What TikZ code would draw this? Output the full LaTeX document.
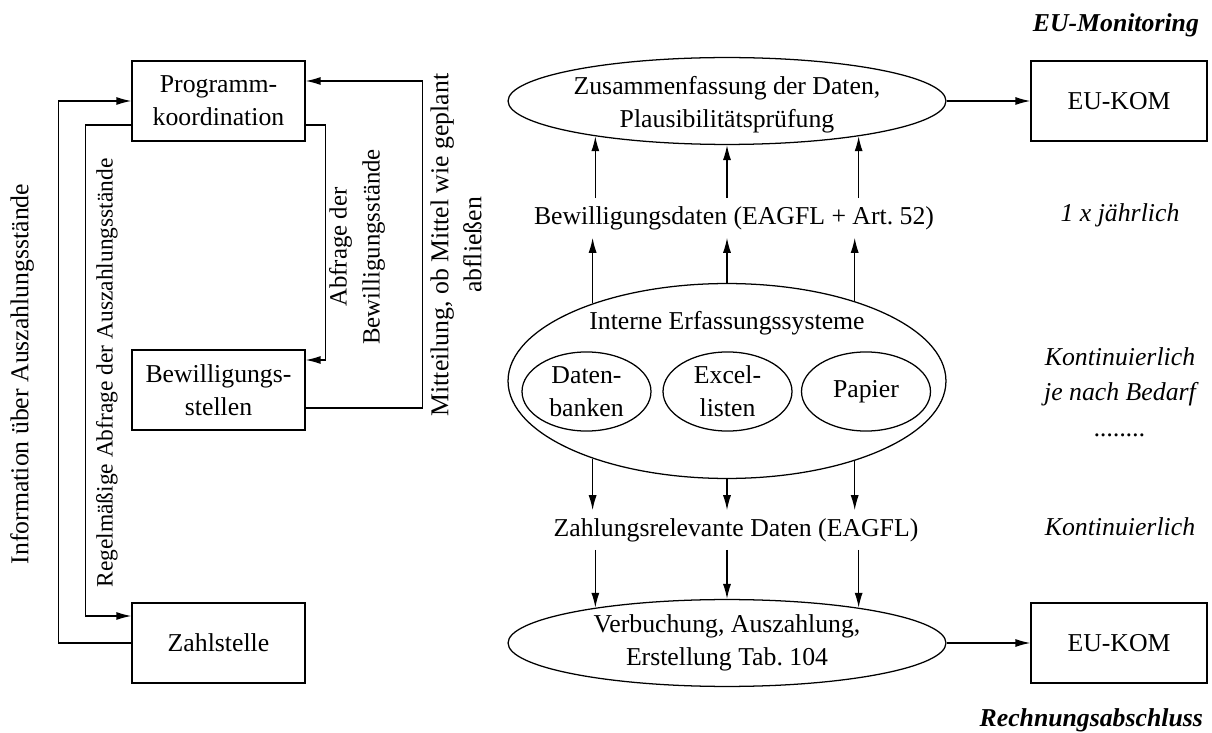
\documentclass[tikz,border=0pt]{standalone}
\usepackage{fontspec}
\setmainfont{Liberation Serif}
\usetikzlibrary{calc,arrows.meta,shapes.geometric}

\begin{document}
\begin{tikzpicture}[x=0.435pt, y=-0.435pt,
		font=\fontsize{11.2}{14.4}\selectfont,
		box/.style={draw, line width=0.55pt, minimum width=75.3pt, minimum height=34.8pt, align=center, inner sep=0pt},
		eubox/.style={box, minimum width=76.6pt},
		oval/.style={draw, ellipse, line width=0.55pt, inner sep=0pt, align=center},
		arr/.style={line width=0.55pt, -{Latex[length=6.5pt, width=3.5pt]}},
		side/.style={rotate=90, align=center},
		freq/.style={font=\fontsize{11.2}{15.5}\selectfont\itshape, align=center},
		head/.style={font=\fontsize{11.2}{14.4}\selectfont\bfseries\itshape, anchor=east}]
		%%%%% START %%%%%
		
		\useasboundingbox (0,0) rectangle (1212,733);
		
		\node[box] (prog) at (218.5,101) {Programm-\\koordination};
		\node[box] (bws) at (218.5,390) {Bewilligungs-\\stellen};
		\node[box] (zs) at (218.5,643) {Zahlstelle};
		
		\node[side] (info) at (22,374) {Information über Auszahlungsstände};
		\node[side, font=\fontsize{10.2}{13}\selectfont] (regel) at (107,373) {Regelmäßige Abfrage der Auszahlungsstände};
		\node[side, font=\fontsize{10.8}{14.4}\selectfont] (abfr) at (357,247) {Abfrage der\\Bewilligungsstände};
		\node[side] (mitt) at (456,245) {Mitteilung, ob Mittel wie geplant\\abfließen};
		
		\draw[arr] (zs.west) -- ++(-73,0) |- (prog.west);
		\draw[arr] ($(prog.west)+(0,24)$) -- ++(-46,0) |- ($(zs.west)+(0,-27)$);
		\draw[arr] ($(prog.east)+(0,24)$) -- ++(20,0) |- ($(bws.east)+(0,-30)$);
		\draw[arr] ($(bws.east)+(0,18)$) -- ++(117,0) |- ($(prog.east)+(0,-20)$);
		
		\node[oval, minimum width=190.5pt, minimum height=37.8pt] (top) at (727,101) {};
		\node[align=center] (toplbl) at (727,105) {Zusammenfassung der Daten,\\Plausibilitätsprüfung};
		\node[eubox] (eu1) at (1119,101) {EU-KOM};
		\node (bew) at (734,218) {Bewilligungsdaten (EAGFL + Art.\ 52)};
		
		\node[oval, minimum width=190.5pt, minimum height=84.8pt] (int) at (727,381) {};
		\node (intlbl) at (727,323) {Interne Erfassungssysteme};
		\node[oval, minimum width=56.1pt, minimum height=34.4pt] (db) at (586.5,391.5) {Daten-\\banken};
		\node[oval, minimum width=56.1pt, minimum height=34.4pt] (xl) at (727.5,391.5) {Excel-\\listen};
		\node[oval, minimum width=56.1pt, minimum height=34.4pt] (pap) at (866,391.5) {Papier};
		
		\node (zahl) at (736,530) {Zahlungsrelevante Daten (EAGFL)};
		\node[oval, minimum width=190.5pt, minimum height=37.8pt] (ver) at (727,643) {Verbuchung, Auszahlung,\\Erstellung Tab.\ 104};
		\node[eubox] (eu2) at (1119,643) {EU-KOM};
		
		\draw[arr] (top.east) -- (eu1.west);
		\draw[arr] (ver.east) -- (eu2.west);
		
		\draw[arr] (bew.north -| top.195) -- (top.195);
		\draw[arr] (bew.north -| top.south) -- (top.south);
		\draw[arr] (bew.north -| top.345) -- (top.345);
		\draw[arr] (int.150) -- (int.150 |- bew.south);
		\draw[arr] (int.north) -- (int.north |- bew.south);
		\draw[arr] (int.32) -- (int.32 |- bew.south);
		
		\draw[arr] (int.210) -- (int.210 |- zahl.north);
		\draw[arr] (int.south) -- (int.south |- zahl.north);
		\draw[arr] (int.328) -- (int.328 |- zahl.north);
		\draw[arr] (zahl.south -| ver.165) -- (ver.165);
		\draw[arr] (zahl.south -| ver.north) -- (ver.north);
		\draw[arr] (zahl.south -| ver.15) -- (ver.15);
		
		\node[head] (mon) at (1207,25) {EU-Monitoring};
		\node[freq] (f1) at (1120,215) {1 x jährlich};
		\node[freq] (f2) at (1120,392) {Kontinuierlich\\je nach Bedarf\\........};
		\node[freq] (f3) at (1120,527) {Kontinuierlich};
		\node[head] (ra) at (1211,720) {Rechnungsabschluss};
		
		%%%%% END %%%%%
	\end{tikzpicture}
\end{document}
